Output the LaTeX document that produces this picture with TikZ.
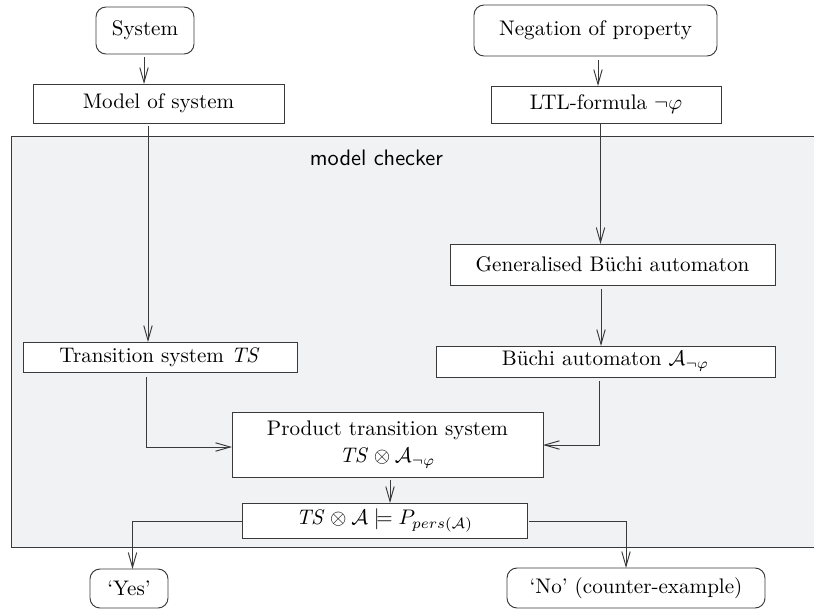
\documentclass[tikz,border=0pt]{standalone}
\usetikzlibrary{arrows.meta}
\newdimen\px \px=0.474pt
\definecolor{mcfill}{HTML}{F1F2F4}
\definecolor{lc}{HTML}{3A3A3A}
\tikzset{
  every node/.style={inner sep=0pt, outer sep=0pt, align=center},
  sqbox/.style={draw=lc, fill=white, line width=0.45pt},
  rbox/.style={draw=lc, fill=white, line width=0.45pt, rounded corners=10*\px},
  conn/.style={draw=lc, line width=0.45pt, -{Straight Barb[length=7pt,width=4pt,line width=0.45pt]}},
}
\begin{document}
\begin{tikzpicture}[x=0.474pt, y=-0.474pt]
\useasboundingbox (0,0) rectangle (814,609);
\clip (0,0) rectangle (814,609);
% model checker area
\node[draw=lc, fill=mcfill, line width=0.45pt, minimum width=820*\px, minimum height=411*\px, anchor=north west] (mc) at (11,136) {};
\node[font=\sffamily\fontsize{10.6}{12}\selectfont] (mclabel) at (376.5,157.5) {model checker};
% nodes
\node[rbox, minimum width=98*\px, minimum height=47*\px] (sys) at (145,30.5) {System};
\node[sqbox, minimum width=251*\px, minimum height=39*\px] (mod) at (158.5,103.5) {Model of system};
\node[rbox, minimum width=243*\px, minimum height=51*\px] (neg) at (595.5,30.5) {Negation of property};
\node[sqbox, minimum width=230*\px, minimum height=37*\px] (ltl) at (606,104.5) {LTL-formula $\neg\varphi$};
\node[sqbox, minimum width=325*\px, minimum height=41*\px] (gba) at (612.5,264.5) {Generalised B\"uchi automaton};
\node[sqbox, minimum width=339*\px, minimum height=31*\px] (ba) at (605.5,361.5) {B\"uchi automaton $\mathcal{A}_{\neg\varphi}$};
\node[sqbox, minimum width=274*\px, minimum height=30*\px] (ts) at (160,357) {Transition system $\mathit{TS}$};
\node[sqbox, minimum width=311*\px, minimum height=65*\px] (prod) at (387.5,444.5) {Product transition system\\[1pt] $\mathit{TS}\otimes\mathcal{A}_{\neg\varphi}$};
\node[sqbox, minimum width=285*\px, minimum height=35*\px] (chk) at (384.5,520.5) {$\mathit{TS}\otimes\mathcal{A}\models P_{pers(\mathcal{A})}$};
\node[rbox, minimum width=78*\px, minimum height=39*\px] (yes) at (129,588.5) {`Yes'};
\node[rbox, minimum width=258*\px, minimum height=40*\px] (no) at (636,588) {`No' (counter-example)};
% coordinates for bends
\coordinate (b1) at (146,447);
\coordinate (b2) at (599,445);
\coordinate (b3) at (132.5,521.5);
\coordinate (b4) at (626,521.5);
% connectors
\draw[conn, shorten <=3*\px] (sys.south -| 144,0) -- (mod.north -| 144,0);
\draw[conn, shorten <=4*\px] (neg.south -| 598,0) -- (ltl.north -| 598,0);
\draw[conn, shorten <=3*\px] (mod.south -| 148,0) -- (ts.north -| 148,0);
\draw[conn] (ltl.south -| 600.5,0) -- (gba.north -| 600.5,0);
\draw[conn, shorten <=4*\px] (gba.south -| 601,0) -- (ba.north -| 601,0);
\draw[conn, shorten <=5*\px] (ts.south -| b1) -- (b1) -- (prod.west |- b1);
\draw[conn, shorten <=4*\px] (ba.south -| b2) -- (b2) -- (prod.east |- b2);
\draw[conn, shorten <=3*\px] (prod.south -| 390,0) -- (chk.north -| 390,0);
\draw[conn] (chk.west |- b3) -- (b3) -- (yes.north -| b3);
\draw[conn, shorten <=2*\px] (chk.east |- b4) -- (b4) -- (no.north -| b4);
\end{tikzpicture}
\end{document}
